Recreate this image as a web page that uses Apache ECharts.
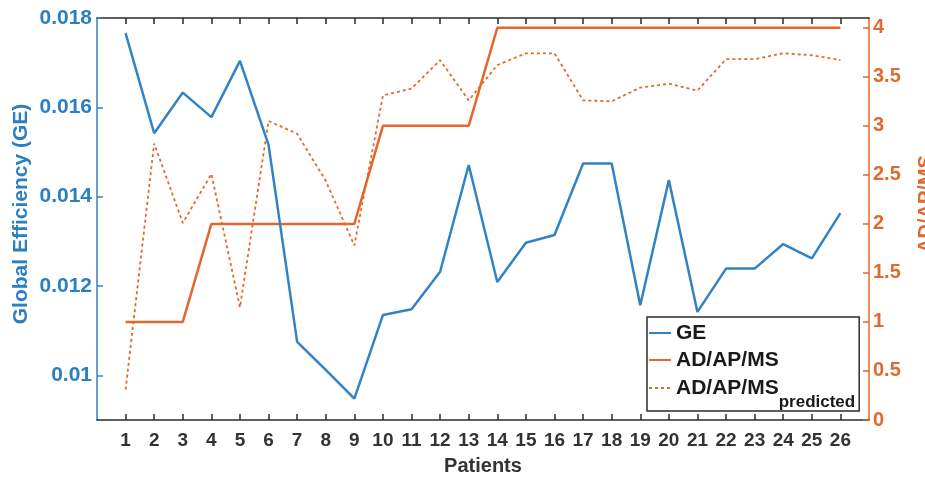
<!DOCTYPE html>
<html>
<head>
<meta charset="utf-8">
<script src="https://cdn.jsdelivr.net/npm/echarts@6/dist/echarts.min.js"></script>
<style>
  html, body { margin: 0; padding: 0; background: #ffffff; }
  #chart { width: 925px; height: 478px; }
</style>
</head>
<body>
<div id="chart"></div>
<script>
// Patients on the x axis
const patients = [1, 2, 3, 4, 5, 6, 7, 8, 9, 10, 11, 12, 13, 14, 15, 16, 17, 18, 19, 20, 21, 22, 23, 24, 25, 26];

// Global efficiency per patient (left axis)
const geValues = [0.01766, 0.01542, 0.01633, 0.01578, 0.01704, 0.01516, 0.01075, 0.01012, 0.00948, 0.01135,
                  0.01148, 0.01232, 0.01471, 0.01209, 0.01297, 0.01314, 0.01474, 0.01474, 0.01157, 0.01437,
                  0.01142, 0.01239, 0.01239, 0.01294, 0.01262, 0.01363];

// Observed AD/AP/MS class (right axis)
const adApMs = [1, 1, 1, 2, 2, 2, 2, 2, 2, 3, 3, 3, 3, 4, 4, 4, 4, 4, 4, 4, 4, 4, 4, 4, 4, 4];

// Predicted AD/AP/MS class (right axis)
const adApMsPredicted = [0.31, 2.82, 2.01, 2.51, 1.15, 3.05, 2.92, 2.44, 1.78, 3.31,
                         3.38, 3.67, 3.26, 3.62, 3.74, 3.74, 3.26, 3.25, 3.39, 3.43,
                         3.36, 3.68, 3.68, 3.74, 3.72, 3.67];

// Tick labels
const geTicks = [0.01, 0.012, 0.014, 0.016, 0.018];
const classTicks = [0, 0.5, 1, 1.5, 2, 2.5, 3, 3.5, 4];

const BLUE = '#3283c4';
const BLUE_TEXT = '#2a7ec4';
const ORANGE = '#e5672c';
const ORANGE_TEXT = '#e06a2e';
const FONT = '"Liberation Sans", Arial, sans-serif';

const toPairs = (vals) => patients.map((p, i) => [p, vals[i]]);

const chart = echarts.init(document.getElementById('chart'), null, { renderer: 'canvas' });

chart.setOption({
  backgroundColor: '#ffffff',
  animation: false,
  textStyle: { fontFamily: FONT },
  grid: { left: 97, right: 56, top: 18, bottom: 58, containLabel: false, outerBoundsMode: 'none' },
  xAxis: [
    {
      type: 'value', position: 'bottom', min: 0, max: 27,
      name: 'Patients', nameLocation: 'middle', nameGap: 36, nameMoveOverlap: false,
      nameTextStyle: { color: '#333333', fontSize: 20, fontWeight: 'bold', fontFamily: FONT },
      axisLine: { onZero: false, lineStyle: { color: '#2b2b2b', width: 1.5 } },
      axisTick: { inside: true, length: 6, customValues: patients, lineStyle: { color: '#2b2b2b', width: 1.5 } },
      axisLabel: { customValues: patients, margin: 11, color: '#333333', fontSize: 19, fontWeight: 'bold', fontFamily: FONT },
      splitLine: { show: false }
    },
    {
      type: 'value', position: 'top', min: 0, max: 27,
      axisLine: { onZero: false, lineStyle: { color: '#2b2b2b', width: 1.5 } },
      axisTick: { inside: true, length: 6, customValues: patients, lineStyle: { color: '#2b2b2b', width: 1.5 } },
      axisLabel: { show: false },
      splitLine: { show: false }
    }
  ],
  yAxis: [
    {
      type: 'value', position: 'left', min: 0.009, max: 0.018,
      name: 'Global Efficiency (GE)', nameLocation: 'middle', nameRotate: 90, nameGap: 65, nameMoveOverlap: false,
      nameTextStyle: { color: BLUE_TEXT, fontSize: 21, fontWeight: 'bold', fontFamily: FONT, padding: [0, 0, 0, 10] },
      axisLine: { show: true, onZero: false, lineStyle: { color: BLUE, width: 1.5 } },
      axisTick: { show: true, inside: true, length: 6, customValues: geTicks, lineStyle: { color: BLUE, width: 1.5 } },
      axisLabel: { customValues: geTicks, margin: 5, color: BLUE_TEXT, fontSize: 21, fontWeight: 'bold', fontFamily: FONT },
      splitLine: { show: false }
    },
    {
      type: 'value', position: 'right', min: 0, max: 4.1,
      name: 'AD/AP/MS', nameLocation: 'middle', nameRotate: 90, nameGap: 47, nameMoveOverlap: false,
      nameTextStyle: { color: ORANGE_TEXT, fontSize: 20, fontWeight: 'bold', fontFamily: FONT, padding: [0, 0, 0, 30] },
      axisLine: { show: true, onZero: false, lineStyle: { color: ORANGE, width: 1.5 } },
      axisTick: { show: true, inside: true, length: 6, customValues: classTicks, lineStyle: { color: ORANGE, width: 1.5 } },
      axisLabel: { customValues: classTicks, margin: 4, color: ORANGE_TEXT, fontSize: 20, fontWeight: 'bold', fontFamily: FONT },
      splitLine: { show: false }
    }
  ],
  legend: {
    orient: 'vertical', left: 647, top: 317,
    backgroundColor: '#ffffff', borderColor: '#2b2b2b', borderWidth: 1.5,
    padding: [-6, 4, 0, 1],
    itemGap: -17, itemWidth: 22, itemHeight: 14,
    itemStyle: { opacity: 0 },
    data: ['GE', 'AD/AP/MS', 'AD/AP/MS_predicted'],
    formatter: (name) => name === 'AD/AP/MS_predicted' ? '{m|AD/AP/MS}{s|predicted}' : name,
    textStyle: {
      color: '#1a1a1a', fontSize: 21, fontWeight: 'bold', fontFamily: FONT, lineHeight: 44,
      rich: {
        m: { fontSize: 21, fontWeight: 'bold', fontFamily: FONT, color: '#1a1a1a', lineHeight: 44, verticalAlign: 'middle' },
        s: { fontSize: 17, fontWeight: 'bold', fontFamily: FONT, color: '#1a1a1a', lineHeight: 46, verticalAlign: 'bottom' }
      }
    }
  },
  series: [
    {
      name: 'GE', type: 'line', xAxisIndex: 0, yAxisIndex: 0,
      data: toPairs(geValues), symbol: 'none',
      lineStyle: { color: BLUE, width: 2.5 }, itemStyle: { color: BLUE }, z: 3
    },
    {
      name: 'AD/AP/MS', type: 'line', xAxisIndex: 0, yAxisIndex: 1,
      data: toPairs(adApMs), symbol: 'none',
      lineStyle: { color: ORANGE, width: 2.5 }, itemStyle: { color: ORANGE }, z: 2
    },
    {
      name: 'AD/AP/MS_predicted', type: 'line', xAxisIndex: 0, yAxisIndex: 1,
      data: toPairs(adApMsPredicted), symbol: 'none',
      lineStyle: { color: ORANGE, width: 1.8, type: [3, 3] }, itemStyle: { color: ORANGE }, z: 2
    }
  ]
});
</script>
</body>
</html>
